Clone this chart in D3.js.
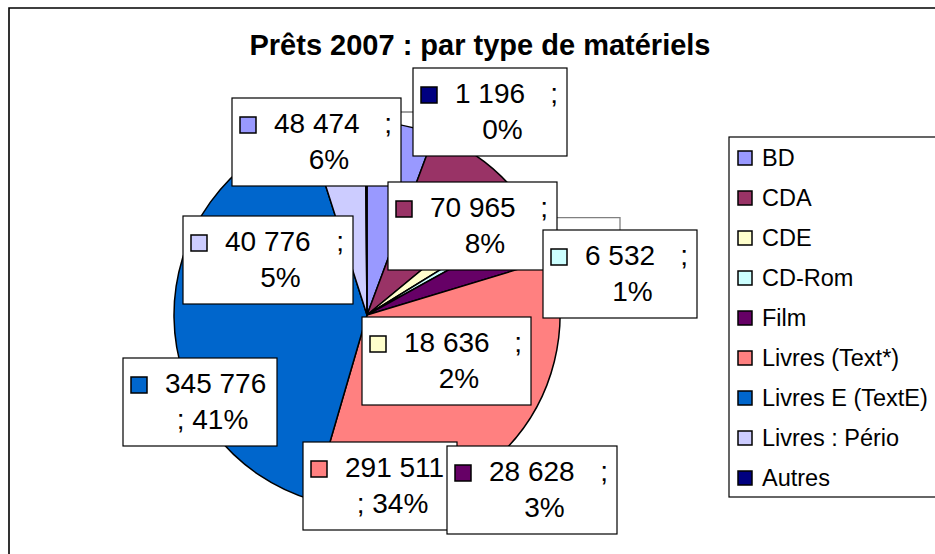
<!DOCTYPE html>
<html><head><meta charset="utf-8">
<script src="https://cdn.jsdelivr.net/npm/d3@7"></script>
<style>html,body{margin:0;padding:0;background:#fff;}svg{display:block;font-family:"Liberation Sans",Arial,sans-serif;}</style>
</head><body>
<svg id="c" width="935" height="554"></svg>
<script>
const categories = ["BD","CDA","CDE","CD-Rom","Film","Livres (Text*)","Livres E (TextE)","Livres : Pério","Autres"];
const values = [48474,70965,18636,6532,28628,291511,345776,40776,1196];
const colors = ["#9999FF","#993366","#FFFFCC","#CCFFFF","#660066","#FF8080","#0066CC","#CCCCFF","#000080"];
const title = "Prêts 2007 : par type de matériels";

// layout of the (manually placed) data-label boxes: left, top, width; leader style
const labelBoxes = [
  {x:232,y:98,w:169},{x:388,y:182,w:169},{x:362,y:317,w:169},{x:543,y:230,w:154,leader:"top"},
  {x:447,y:446,w:170},{x:303,y:442,w:154},{x:123,y:358,w:154},{x:183,y:216,w:170},{x:413,y:68,w:154,leader:"left"}
];
const labelOrder = [0,1,2,3,5,4,6,7,8];

const W=935,H=554, cx=367, cy=315, R=193;
const svg = d3.select("#c");
svg.append("rect").attr("width",W).attr("height",H).attr("fill","#fff");
// chart frame
svg.append("path").attr("d","M9,560 L9,8 L940,8").attr("fill","none").attr("stroke","#000").attr("stroke-width",1.6);

svg.append("text").attr("x",480).attr("y",55).attr("text-anchor","middle")
  .attr("font-weight","bold").attr("font-size",29).text(title);

const total = d3.sum(values);
const data = categories.map((c,i)=>({cat:c,value:values[i],color:colors[i]}));
const pie = d3.pie().value(d=>d.value).sort(null);
const arcs = pie(data);
const arc = d3.arc().innerRadius(0).outerRadius(R);
const g = svg.append("g").attr("transform",`translate(${cx},${cy})`);

// leader lines (under boxes)
arcs.forEach((a,i)=>{
  const b = labelBoxes[i]; if(!b.leader) return;
  const m=(a.startAngle+a.endAngle)/2;
  const sx=cx+R*Math.sin(m), sy=cy-R*Math.cos(m);
  let pts;
  if(b.leader==="left"){ const my=b.y+44; pts=[[sx,sy],[sx,my],[b.x,my]]; }
  else { const mx=b.x+b.w/2; pts=[[sx,sy],[mx,sy],[mx,b.y]]; }
  svg.append("path").attr("d",d3.line()(pts)).attr("fill","none").attr("stroke","#808080").attr("stroke-width",1.3);
});

g.selectAll("path.s").data(arcs).enter().append("path").attr("class","s")
  .attr("d",arc).attr("fill",d=>d.data.color).attr("stroke","#000").attr("stroke-width",1.5).attr("stroke-linejoin","round");

const fmt = d3.formatLocale({decimal:",",thousands:" ",grouping:[3],currency:["","€"]}).format(",d");
labelOrder.forEach(i=>{
  const a=arcs[i], b=labelBoxes[i];
  const lg = svg.append("g").attr("transform",`translate(${b.x},${b.y})`);
  lg.append("rect").attr("width",b.w).attr("height",88).attr("fill","#fff").attr("stroke","#000").attr("stroke-width",1.2);
  lg.append("rect").attr("x",8).attr("y",19).attr("width",16).attr("height",16).attr("fill",a.data.color).attr("stroke","#000").attr("stroke-width",1.5);
  const vs = fmt(a.data.value), ps = Math.round(a.data.value/total*100)+"%";
  const wrap = vs.length>6;
  lg.append("text").attr("x",42).attr("y",35).attr("font-size",28).text(vs);
  const cxText = (25+b.w)/2;
  if(!wrap){
    lg.append("text").attr("x",b.w-9).attr("y",35).attr("font-size",28).attr("text-anchor","end").text(";");
    lg.append("text").attr("x",cxText).attr("y",71).attr("font-size",28).attr("text-anchor","middle").text(ps);
  } else {
    lg.append("text").attr("x",cxText).attr("y",71).attr("font-size",28).attr("text-anchor","middle").text("; "+ps);
  }
});

// legend
const leg = svg.append("g");
leg.append("rect").attr("x",729).attr("y",137).attr("width",230).attr("height",360).attr("fill","#fff").attr("stroke","#000").attr("stroke-width",1.2);
categories.forEach((c,i)=>{
  const y=158+i*40;
  leg.append("rect").attr("x",738).attr("y",y-7).attr("width",14).attr("height",14).attr("fill",colors[i]).attr("stroke","#000").attr("stroke-width",1.5);
  leg.append("text").attr("x",762).attr("y",y+8).attr("font-size",23.5).text(c);
});
</script>
</body></html>
